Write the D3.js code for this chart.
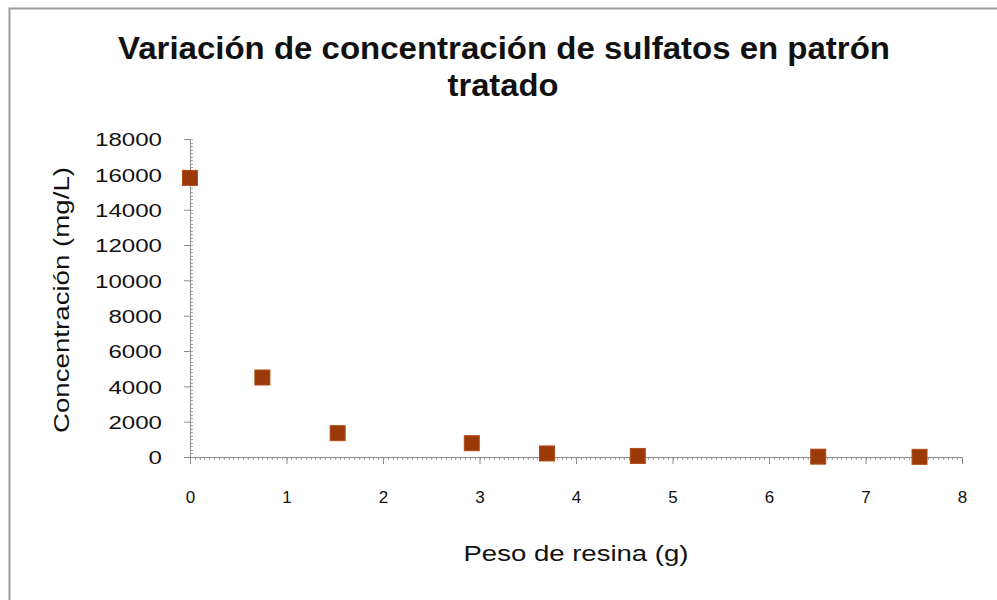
<!DOCTYPE html>
<html>
<head>
<meta charset="utf-8">
<script src="https://cdn.jsdelivr.net/npm/d3@7"></script>
<style>
  html, body { margin: 0; padding: 0; background: #fff; }
  svg { display: block; }
  text { font-family: "Liberation Sans", Arial, sans-serif; fill: #111; }
</style>
</head>
<body>
<svg id="chart" width="997" height="600"></svg>
<script>
// Resin mass (g) vs. sulfate concentration (mg/L)
const resinMass = [0, 0.75, 1.53, 2.92, 3.70, 4.64, 6.51, 7.56];
const sulfate   = [15800, 4500, 1350, 780, 200, 60, 20, 10];

const xTicks = [0, 1, 2, 3, 4, 5, 6, 7, 8];
const yTicks = [0, 2000, 4000, 6000, 8000, 10000, 12000, 14000, 16000, 18000];

const titleLines = ["Variación de concentración de sulfatos en patrón", "tratado"];
const xTitle = "Peso de resina (g)";
const yTitle = "Concentración (mg/L)";

const svg = d3.select("#chart");

// outer chart frame
svg.append("rect")
  .attr("x", 9.5).attr("y", 8.5)
  .attr("width", 1100).attr("height", 700)
  .attr("fill", "none").attr("stroke", "#9a9a9a").attr("stroke-width", 2);

const x = d3.scaleLinear().domain([0, 8]).range([190, 962]);
const y = d3.scaleLinear().domain([0, 18000]).range([457, 139]);

// minor ticks
const axisColor = "#8c8c8c";
const gMinor = svg.append("g").attr("stroke", "#a8a8a8").attr("stroke-width", 1);
gMinor.selectAll("line.mx")
  .data(d3.range(0, 8.0001, 0.05))
  .join("line")
  .attr("x1", d => Math.round(x(d)) + 0.5).attr("x2", d => Math.round(x(d)) + 0.5)
  .attr("y1", y(0)).attr("y2", y(0) + 3);
gMinor.selectAll("line.my")
  .data(d3.range(0, 18001, 200))
  .join("line")
  .attr("y1", d => Math.round(y(d)) + 0.5).attr("y2", d => Math.round(y(d)) + 0.5)
  .attr("x1", x(0)).attr("x2", x(0) + 3);

// x axis
const xAxis = d3.axisBottom(x).tickValues(xTicks).tickFormat(d3.format("d"))
  .tickSize(7).tickPadding(27);
const gx = svg.append("g").attr("transform", `translate(0,${y(0)})`).call(xAxis);
gx.select(".domain").attr("stroke", axisColor);
gx.selectAll(".tick line").attr("stroke", axisColor);
gx.selectAll(".tick text")
  .attr("font-size", 17).attr("fill", "#222")
  .style("font-family", "'Liberation Sans', Arial, sans-serif");

// y axis
const yAxis = d3.axisLeft(y).tickValues(yTicks).tickFormat(d3.format("d"))
  .tickSize(6).tickPadding(22);
const gy = svg.append("g").attr("transform", `translate(${x(0)},0)`).call(yAxis);
gy.select(".domain").attr("stroke", axisColor);
gy.selectAll(".tick line").attr("stroke", axisColor);
gy.selectAll(".tick text")
  .attr("font-size", 19).attr("fill", "#222")
  .attr("dy", "0.36em")
  .style("font-family", "'Liberation Sans', Arial, sans-serif")
  .attr("textLength", d => String(d).length * 13.4)
  .attr("lengthAdjust", "spacingAndGlyphs");

// markers
svg.append("g").selectAll("rect.pt")
  .data(resinMass.map((m, i) => ({ m, c: sulfate[i] })))
  .join("rect")
  .attr("class", "pt")
  .attr("x", d => x(d.m) - 7.5).attr("y", d => y(d.c) - 7.5)
  .attr("width", 15).attr("height", 15)
  .attr("fill", "#9a3a08").attr("stroke", "#b24a14").attr("stroke-width", 1);

// title
svg.append("text")
  .attr("x", 504).attr("y", 59)
  .attr("text-anchor", "middle")
  .attr("font-size", 31).attr("font-weight", "bold")
  .attr("textLength", 772).attr("lengthAdjust", "spacingAndGlyphs")
  .text(titleLines[0]);
svg.append("text")
  .attr("x", 503).attr("y", 96)
  .attr("text-anchor", "middle")
  .attr("font-size", 31).attr("font-weight", "bold")
  .attr("textLength", 111).attr("lengthAdjust", "spacingAndGlyphs")
  .text(titleLines[1]);

// axis titles
svg.append("text")
  .attr("x", 576).attr("y", 561)
  .attr("text-anchor", "middle")
  .attr("font-size", 22)
  .attr("textLength", 225).attr("lengthAdjust", "spacingAndGlyphs")
  .text(xTitle);
svg.append("text")
  .attr("transform", "translate(69,300) rotate(-90)")
  .attr("text-anchor", "middle")
  .attr("font-size", 22)
  .attr("textLength", 266).attr("lengthAdjust", "spacingAndGlyphs")
  .text(yTitle);
</script>
</body>
</html>
